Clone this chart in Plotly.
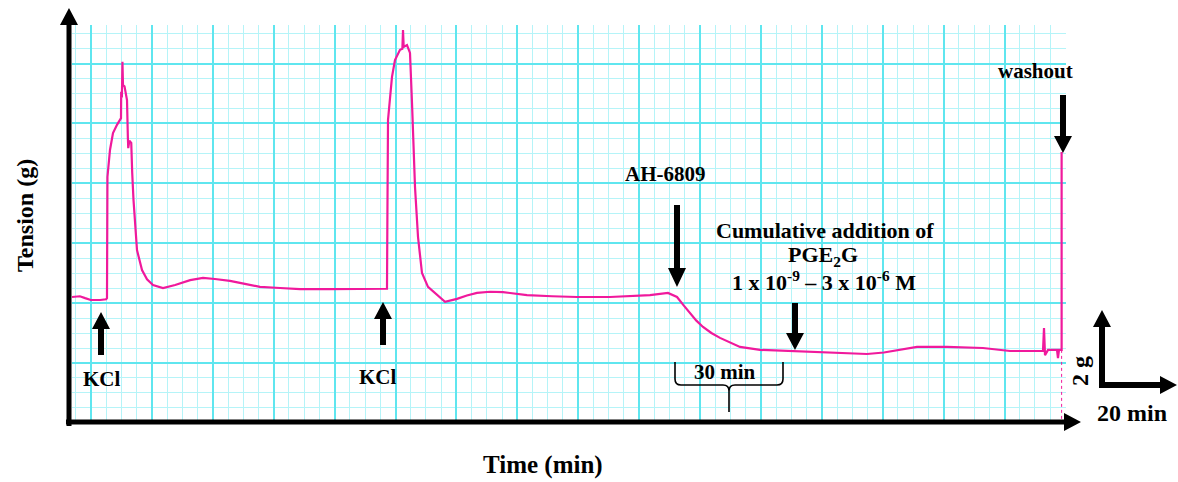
import plotly.graph_objects as go

# ---------------- data (read from the recording) ----------------
baseline_t = [0, 2.1, 3.5, 5.0, 7.5, 9.1]
baseline_g = [3.28, 3.3, 3.25, 3.2, 3.2, 3.22]

kcl1_t = [9.33, 9.45, 10.13, 10.93, 12.0, 12.8, 13.07, 13.12, 13.3, 13.45, 13.6, 14.0,
          14.67, 14.9, 15.0, 15.3, 15.8, 16.05, 16.4, 17.33, 18.67, 20.0, 21.6]
kcl1_g = [3.25, 6.48, 7.2, 7.65, 7.87, 8.0, 8.05, 8.75, 8.6, 9.55, 8.93, 8.9,
          8.53, 7.52, 7.25, 7.45, 7.39, 6.6, 5.87, 4.53, 4.0, 3.75, 3.6]

interval_t = [24.27, 27.5, 31.5, 34.93, 38.1, 42.13, 46.1, 50.13, 55.5, 60.8, 68.8, 76.8, 83.47]
interval_g = [3.52, 3.6, 3.73, 3.79, 3.76, 3.71, 3.63, 3.55, 3.52, 3.49, 3.49, 3.49, 3.49]

kcl2_t = [84.0, 84.1, 84.27, 85.33, 86.13, 87.47, 88.1, 88.27, 88.45, 89.33, 90.13,
          90.67, 91.47, 92.27, 93.33, 94.93, 96.8]
kcl2_g = [3.5, 5.33, 8.0, 9.15, 9.6, 9.87, 9.9, 10.4, 9.95, 10.0, 9.79,
          8.45, 6.21, 4.88, 3.92, 3.55, 3.39]

plateau_t = [99.47, 102.67, 105.3, 108.0, 111.5, 114.93, 121.33, 128.0, 134.67, 143.47,
             154.13, 158.93, 161.33]
plateau_g = [3.15, 3.23, 3.32, 3.39, 3.42, 3.41, 3.33, 3.3, 3.28, 3.28,
             3.33, 3.39, 3.28]

relax_t = [163.0, 164.8, 166.5, 168.27, 170.5, 172.8, 175.5, 178.13, 183.47, 192.27, 204.0,
           212.0, 216.5, 220.8, 225.33, 233.33, 242.93, 250.13, 257.33]
relax_g = [3.07, 2.85, 2.65, 2.48, 2.32, 2.19, 2.06, 1.95, 1.87, 1.84, 1.79,
           1.76, 1.8, 1.87, 1.95, 1.95, 1.92, 1.84, 1.84]

end_t = [258.93, 259.2, 259.47, 260.27, 262.67, 262.93, 263.2, 263.9, 263.9]
end_g = [1.84, 2.45, 1.73, 1.87, 1.87, 1.65, 1.87, 1.87, 7.15]

pen_t = [263.9, 263.9]
pen_g = [1.87, 0.0]

time_min = baseline_t + kcl1_t + interval_t + kcl2_t + plateau_t + relax_t + end_t
tension_g = baseline_g + kcl1_g + interval_g + kcl2_g + plateau_g + relax_g + end_g

# ---------------- layout geometry ----------------
W, H = 1178, 482
PL, PR, PT, PB = 72, 1066, 25, 420
PX_PER_MIN = 3.75
PX_PER_G = 37.5
X_RANGE = [0, (PR - PL) / PX_PER_MIN]
Y_RANGE = [0, (PB - PT) / PX_PER_G]

TRACE_COLOR = "#f0199c"
FONT = "Liberation Serif"


def px(x):
    return (x - PL) / (PR - PL)


def py(y):
    return (PB - y) / (PB - PT)


def poly(pts):
    path = "M " + " L ".join(f"{px(a):.5f},{py(b):.5f}" for a, b in pts) + " Z"
    return dict(type="path", xref="paper", yref="paper", path=path,
                fillcolor="black", line=dict(width=0), layer="above")


def varrow(x, tail, tip, sw=6, hw=18, hh=17):
    hb = tip - hh if tip > tail else tip + hh
    pts = [(x - sw / 2, tail), (x + sw / 2, tail), (x + sw / 2, hb), (x + hw / 2, hb),
           (x, tip), (x - hw / 2, hb), (x - sw / 2, hb)]
    return poly(pts)


def harrow(y, tail, tip, sw=6, hw=18, hh=17):
    hb = tip - hh if tip > tail else tip + hh
    pts = [(tail, y - sw / 2), (tail, y + sw / 2), (hb, y + sw / 2), (hb, y + hw / 2),
           (tip, y), (hb, y - hw / 2), (hb, y - sw / 2)]
    return poly(pts)


fig = go.Figure()
fig.add_trace(go.Scatter(x=time_min, y=tension_g, mode="lines",
                         line=dict(color=TRACE_COLOR, width=2.2), hoverinfo="skip",
                         showlegend=False))
fig.add_trace(go.Scatter(x=pen_t, y=pen_g, mode="lines",
                         line=dict(color=TRACE_COLOR, width=1, dash="dot"),
                         hoverinfo="skip", showlegend=False))

shapes = []
# axes with arrowheads
shapes.append(varrow(69, 426, 8, sw=5, hw=18, hh=17))
shapes.append(harrow(422, 66, 1081, sw=5, hw=18, hh=17))
# event arrows
shapes.append(varrow(101, 355, 312))
shapes.append(varrow(383, 345, 302))
shapes.append(varrow(677, 205, 287, hh=19))
shapes.append(varrow(795, 303, 350))
shapes.append(varrow(1063, 95, 153))
# scale bar
shapes.append(varrow(1102, 388, 310))
shapes.append(harrow(385, 1099, 1177))

# 30 min brace
bl, br, bt, by, bc, bb = 675, 783, 362, 385, 729, 412


def P(a, b):
    return f"{px(a):.5f},{py(b):.5f}"


brace = (f"M {P(bl, bt)} L {P(bl, by - 6)} Q {P(bl, by)} {P(bl + 6, by)} "
         f"L {P(bc - 6, by)} Q {P(bc, by)} {P(bc, by + 6)} L {P(bc, bb)} "
         f"M {P(bc, by + 6)} Q {P(bc, by)} {P(bc + 6, by)} "
         f"L {P(br - 6, by)} Q {P(br, by)} {P(br, by - 6)} L {P(br, bt)}")
shapes.append(dict(type="path", xref="paper", yref="paper", path=brace,
                   line=dict(color="black", width=1.6), layer="above"))


def label(text, x, y, size=21, angle=0):
    return dict(text=text, x=px(x), y=py(y), xref="paper", yref="paper",
                showarrow=False, xanchor="center", yanchor="middle", textangle=angle,
                font=dict(family=FONT, size=size, color="black", weight="bold"))


annotations = [
    label("KCl", 102, 379),
    label("KCl", 378, 377),
    label("AH-6809", 665, 174),
    label("Cumulative addition of", 825, 230, size=22),
    label("PGE<sub>2</sub>G", 823, 256, size=22),
    label("1 x 10<sup>-9</sup> – 3 x 10<sup>-6</sup> M", 824, 281, size=22),
    label("washout", 1035, 71),
    label("30 min", 725, 372),
    label("2 g", 1080, 371, size=24, angle=-90),
    label("20 min", 1132, 413, size=24),
    label("Tension (g)", 25, 216, size=24, angle=-90),
    label("Time (min)", 543, 465, size=25),
]

X_TICK0 = (91 - PL) / PX_PER_MIN
X_DTICK = 60.9 / PX_PER_MIN
Y_TICK0 = (PB - 363) / PX_PER_G
Y_DTICK = 59.9 / PX_PER_G

MAJOR = "#5fe6ef"
MINOR = "#b5f4f8"

fig.update_layout(
    width=W, height=H,
    margin=dict(l=PL, r=W - PR, t=PT, b=H - PB),
    paper_bgcolor="white", plot_bgcolor="white",
    showlegend=False,
    shapes=shapes,
    annotations=annotations,
    xaxis=dict(range=X_RANGE, showticklabels=False, ticks="", zeroline=False,
               showline=False, showgrid=True, gridcolor=MAJOR, gridwidth=2,
               tickmode="linear", tick0=X_TICK0, dtick=X_DTICK, fixedrange=True,
               minor=dict(tick0=X_TICK0, dtick=X_DTICK / 4, showgrid=True,
                          gridcolor=MINOR, gridwidth=1, ticks="")),
    yaxis=dict(range=Y_RANGE, showticklabels=False, ticks="", zeroline=False,
               showline=False, showgrid=True, gridcolor=MAJOR, gridwidth=2,
               tickmode="linear", tick0=Y_TICK0, dtick=Y_DTICK, fixedrange=True,
               minor=dict(tick0=Y_TICK0, dtick=Y_DTICK / 4, showgrid=True,
                          gridcolor=MINOR, gridwidth=1, ticks="")),
)

fig.write_html("out.html", config={"staticPlot": True},
               post_script="document.body.style.margin='0';document.body.style.overflow='hidden';")
